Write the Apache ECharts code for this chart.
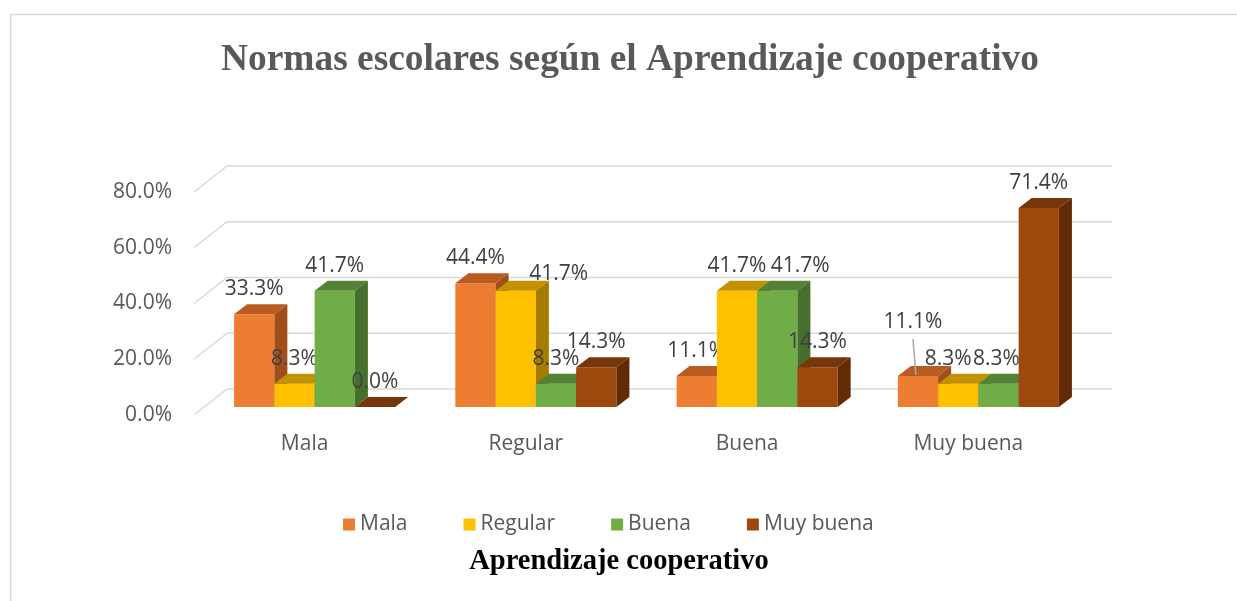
<!DOCTYPE html>
<html>
<head>
<meta charset="utf-8">
<script src="https://cdn.jsdelivr.net/npm/echarts@6/dist/echarts.min.js"></script>
<style>
  html, body { margin: 0; padding: 0; background: #fff; }
  #main { width: 1237px; height: 601px; }
</style>
</head>
<body>
<div id="main"></div>
<script>
// datos
var categories = ['Mala', 'Regular', 'Buena', 'Muy buena'];
var seriesNames = ['Mala', 'Regular', 'Buena', 'Muy buena'];
var mala = [33.3, 44.4, 11.1, 11.1];
var regular = [8.3, 41.7, 41.7, 8.3];
var buena = [41.7, 8.3, 41.7, 8.3];
var muyBuena = [0.0, 14.3, 14.3, 71.4];
var yTicks = [0, 20, 40, 60, 80];

var values = [mala, regular, buena, muyBuena];
var front = ['#ED7D31', '#FFC000', '#70AD47', '#9E480E'];
var topC = ['#BA5B22', '#C29200', '#548235', '#773609'];
var sideC = ['#A04E1A', '#A67C00', '#466E2C', '#622B06'];

// profundidad del efecto 3D
var WALL_DX = 33, WALL_DY = 26;
var SHIFT_X = 10, SHIFT_Y = 8;
var DEPTH_X = 13, DEPTH_Y = 10;

// ajustes de etiquetas (como en Excel)
var nudge = { '1-1': [43, 8], '2-2': [23, 0], '0-3': [-5, -29], '1-3': [-10, 0], '2-3': [-2, 0] };

var chart = echarts.init(document.getElementById('main'));

function renderGrid(params, api) {
  var cs = params.coordSys;
  var p = api.coord([0, api.value(1)]);
  var x0 = cs.x, y = p[1];
  return {
    type: 'polyline',
    shape: { points: [[x0, y], [x0 + WALL_DX, y - WALL_DY], [x0 + cs.width + WALL_DX, y - WALL_DY]] },
    style: { stroke: '#d9d9d9', lineWidth: 1.5, fill: null }
  };
}

function makeBar(s) {
  return function (params, api) {
    var cat = api.value(0), val = api.value(1);
    var base = api.coord([cat, 0]);
    var top = api.coord([cat, val]);
    var band = api.size([1, 0])[0];
    var bw = band * 0.182;
    var x0 = base[0] - 2 * bw + s * bw + SHIFT_X;
    var x1 = x0 + bw;
    var yb = base[1] - SHIFT_Y;
    var yt = top[1] - SHIFT_Y;
    var n = nudge[s + '-' + cat] || [0, 0];
    var lx = x0 + bw / 2 + n[0], ly = yt - 25 + n[1];
    var children = [
      { type: 'rect', shape: { x: x0, y: yt, width: bw, height: yb - yt }, style: { fill: front[s] } },
      { type: 'polygon', shape: { points: [[x0, yt], [x1, yt], [x1 + DEPTH_X, yt - DEPTH_Y], [x0 + DEPTH_X, yt - DEPTH_Y]] }, style: { fill: topC[s] } },
      { type: 'polygon', shape: { points: [[x1, yt], [x1 + DEPTH_X, yt - DEPTH_Y], [x1 + DEPTH_X, yb - DEPTH_Y], [x1, yb]] }, style: { fill: sideC[s] } }
    ];
    if (s === 0 && cat === 3) {
      children.push({ type: 'line', shape: { x1: lx, y1: ly + 17, x2: x0 + bw / 2 - 2, y2: yt - 1 }, style: { stroke: '#a6a6a6', lineWidth: 1.5 } });
    }
    children.push({
      type: 'text',
      style: {
        text: val.toFixed(1) + '%', x: lx, y: ly, align: 'center', verticalAlign: 'middle',
        fontSize: 21, fontFamily: 'Open Sans', fill: '#404040'
      }
    });
    return { type: 'group', children: children };
  };
}

var series = [{
  type: 'custom',
  renderItem: renderGrid,
  data: yTicks.map(function (v) { return [0, v]; }),
  encode: { x: 0, y: 1 },
  silent: true,
  z: 1
}];
for (var s = 0; s < 4; s++) {
  series.push({
    name: seriesNames[s],
    type: 'custom',
    renderItem: makeBar(s),
    itemStyle: { color: front[s] },
    data: values[s].map(function (v, i) { return [i, v]; }),
    encode: { x: 0, y: 1 },
    z: 2
  });
}

var option = {
  animation: false,
  backgroundColor: '#fff',
  title: [{
    text: 'Normas escolares según el Aprendizaje cooperativo',
    left: 625, top: 37, textAlign: 'center',
    textStyle: { fontFamily: 'Liberation Serif', fontWeight: 'bold', fontSize: 37.4, color: '#595959' }
  }, {
    text: 'Aprendizaje cooperativo',
    left: 614, top: 542, textAlign: 'center',
    textStyle: { fontFamily: 'Liberation Serif', fontWeight: 'bold', fontSize: 28.5, color: '#000' }
  }],
  graphic: [{
    type: 'rect',
    shape: { x: 10.5, y: 14.5, width: 1260, height: 620 },
    style: { fill: null, stroke: '#d9d9d9', lineWidth: 1.5 },
    silent: true
  }],
  legend: {
    data: seriesNames,
    left: 338, top: 509,
    icon: 'rect', itemWidth: 12, itemHeight: 12, itemGap: 56,
    textStyle: { fontFamily: 'Open Sans', fontSize: 21, color: '#595959' }
  },
  grid: { left: 194, right: 158, top: 192, bottom: 186 },
  xAxis: {
    type: 'category',
    data: categories,
    axisLine: { show: false },
    axisTick: { show: false },
    axisLabel: { margin: 19, fontFamily: 'Open Sans', fontSize: 21, color: '#595959' }
  },
  yAxis: {
    type: 'value',
    min: 0, max: 80, interval: 20,
    splitLine: { show: false },
    axisLine: { show: false },
    axisTick: { show: false },
    axisLabel: {
      margin: 22, fontFamily: 'Open Sans', fontSize: 21, color: '#595959',
      formatter: function (v) { return v.toFixed(1) + '%'; }
    }
  },
  series: series
};

chart.setOption(option);
</script>
</body>
</html>
